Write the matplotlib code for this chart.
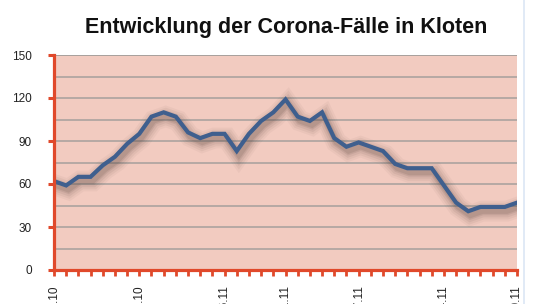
import matplotlib
matplotlib.use("Agg")
import matplotlib.pyplot as plt
import matplotlib.patheffects as pe

plt.rcParams['font.family'] = ['Liberation Sans', 'DejaVu Sans']

title = "Entwicklung der Corona-Fälle in Kloten"
dates = ["23.10", "24.10", "25.10", "26.10", "27.10", "28.10", "29.10", "30.10", "31.10",
         "01.11", "02.11", "03.11", "04.11", "05.11", "06.11", "07.11", "08.11", "09.11",
         "10.11", "11.11", "12.11", "13.11", "14.11", "15.11", "16.11", "17.11", "18.11",
         "19.11", "20.11", "21.11", "22.11", "23.11", "24.11", "25.11", "26.11", "27.11",
         "28.11", "29.11", "30.11"]
cases = [62, 59, 65, 65, 73, 79, 88, 95, 107, 110, 107, 96, 92, 95, 95, 83, 95, 104,
         110, 119, 107, 104, 110, 92, 86, 89, 86, 83, 74, 71, 71, 71, 59, 47, 41, 44,
         44, 44, 47]
label_idx = [0, 7, 14, 19, 25, 32, 38]
y_ticks = [0, 30, 60, 90, 120, 150]
y_grid = [15, 45, 75, 105, 135, 150]

red = '#E0492B'
fig = plt.figure(figsize=(5.4, 3.04), dpi=100)
ax = fig.add_axes([54/540, 1-270/304, 463/540, 215/304])
ax.set_facecolor('#F2CBC0')

x = list(range(len(cases)))
for v in y_ticks[1:] + y_grid:
    ax.axhline(v, color='#A69F9C', lw=1.1, zorder=1)

shadow = [pe.SimpleLineShadow(offset=(1.5, -3), shadow_color='#5e4843', alpha=a, linewidth=w)
          for w, a in ((15, 0.05), (12, 0.07), (9, 0.09), (6, 0.12), (4, 0.14))]
ax.plot(x, cases, color='#3F5F8E', lw=3.0, solid_joinstyle='miter', zorder=3,
        path_effects=shadow + [pe.Normal()])

ax.set_xlim(0, len(cases) - 1)
ax.set_ylim(0, 150)
ax.set_xticks(x)
ax.set_xticklabels([dates[i] if i in label_idx else '' for i in x], rotation=90,
                   fontsize=8.5, color='#222222')
ax.set_yticks(y_ticks)
ax.set_yticklabels([str(v) for v in y_ticks], fontsize=8.5, color='#222222')
ax.tick_params(axis='x', length=4.5, width=2, color=red, pad=6.5)
ax.tick_params(axis='y', length=4.5, width=2.2, color=red, pad=11.5)
for s in ('top', 'right'):
    ax.spines[s].set_visible(False)
for s in ('left', 'bottom'):
    ax.spines[s].set_color(red)
    ax.spines[s].set_linewidth(2.3)
    ax.spines[s].set_zorder(4)

fig.text(286/540, 1-28/304, title, ha='center', va='center', fontsize=15.5,
         fontweight='bold', color='#111111')
fig.add_artist(plt.Line2D([523.5/540, 523.5/540], [0, 1], color='#DCE6F5', lw=1.2))

fig.savefig('out.png', dpi=100)
